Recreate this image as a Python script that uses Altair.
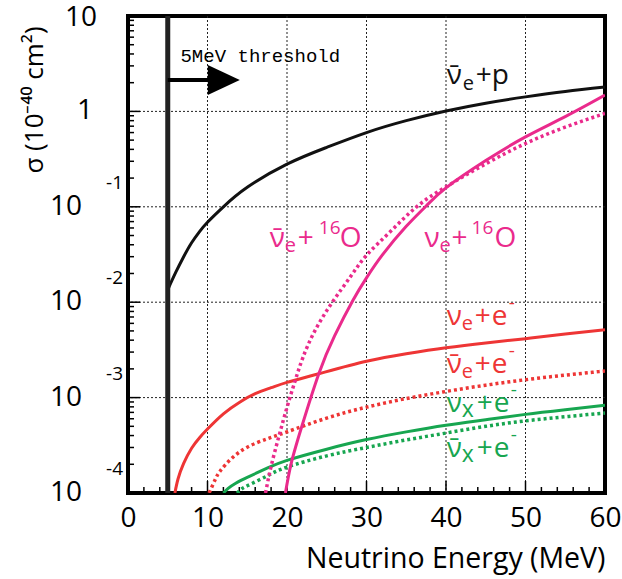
import altair as alt
import pandas as pd

FONT = "Open Sans"
PINK = "#ea2a8c"
RED = "#ee3535"
GREEN = "#17a650"
BLACK = "#111111"

# Cross sections in units of 1e-40 cm^2 versus neutrino energy (MeV)
energy_ibd = [5, 6, 7, 8, 9, 10, 12, 15, 20, 25, 30, 35, 40, 45, 50, 55, 60]
sigma_ibd = [0.0135, 0.0205, 0.030, 0.042, 0.055, 0.069, 0.10, 0.16, 0.28, 0.42,
             0.60, 0.80, 1.01, 1.22, 1.42, 1.62, 1.80]

energy_nue_o = [19.8, 20.5, 21.8, 24, 26, 28.3, 30, 32, 35, 37.5, 40, 45, 50, 55, 60]
sigma_nue_o = [1e-4, 2.0e-4, 4.8e-4, 1.78e-3, 4.47e-3, 0.0105, 0.018, 0.0313, 0.0624,
               0.102, 0.158, 0.305, 0.54, 0.88, 1.48]

energy_nuebar_o = [17.3, 18, 19, 20, 21, 22, 23.5, 25.7, 28, 30, 33, 36.3, 40, 45,
                   50, 55, 60]
sigma_nuebar_o = [1e-4, 1.9e-4, 3.98e-4, 7.9e-4, 1.48e-3, 2.63e-3, 5.0e-3, 0.010,
                  0.0186, 0.031, 0.055, 0.10, 0.162, 0.282, 0.461, 0.684, 0.953]

energy_nue_e = [5.9, 6.3, 7, 8, 9, 10, 12, 14, 16, 18, 20, 24, 30, 35, 40, 45, 50,
                55, 60]
sigma_nue_e = [1e-4, 1.41e-4, 2.04e-4, 2.95e-4, 3.8e-4, 4.68e-4, 6.76e-4, 8.9e-4,
               1.1e-3, 1.27e-3, 1.445e-3, 1.78e-3, 2.4e-3, 2.88e-3, 3.33e-3,
               3.74e-3, 4.15e-3, 4.65e-3, 5.15e-3]

energy_nuebar_e = [10.2, 11, 11.6, 13, 15, 17.5, 20, 25, 30, 35, 40, 45, 50, 55, 60]
sigma_nuebar_e = [1e-4, 1.4e-4, 1.7e-4, 2.29e-4, 3.02e-4, 3.7e-4, 4.37e-4, 6.1e-4,
                  7.94e-4, 9.77e-4, 1.16e-3, 1.35e-3, 1.54e-3, 1.72e-3, 1.9e-3]

energy_nux_e = [12, 12.6, 13.5, 15, 17.5, 20, 25, 30, 35, 40, 45, 50, 55, 60]
sigma_nux_e = [1e-4, 1.12e-4, 1.26e-4, 1.46e-4, 1.82e-4, 2.2e-4, 2.88e-4, 3.63e-4,
               4.37e-4, 5.13e-4, 5.86e-4, 6.67e-4, 7.46e-4, 8.3e-4]

energy_nuxbar_e = [13.7, 14.3, 15, 17.5, 20, 25, 30, 35, 40, 45, 50, 55, 60]
sigma_nuxbar_e = [1e-4, 1.1e-4, 1.19e-4, 1.51e-4, 1.87e-4, 2.45e-4, 3.0e-4, 3.6e-4,
                  4.25e-4, 5.0e-4, 5.7e-4, 6.3e-4, 6.9e-4]

threshold_energy = 5

x_ticks_major = [0, 10, 20, 30, 40, 50, 60]
decades = [10, 1, 0.1, 0.01, 0.001, 0.0001]
decade_exponents = ["", "", "-1", "-2", "-3", "-4"]

W, H = 477, 477

xscale = alt.Scale(domain=[0, 60], nice=False, zero=False)
yscale = alt.Scale(type="log", domain=[1e-4, 10], nice=False)
xaxis = alt.Axis(
    values=x_ticks_major, ticks=False, domain=False, grid=False,
    labelFont=FONT, labelFontSize=28, labelColor="black", labelPadding=11,
    labelFlush=False, labelOverlap=False, labelBound=False,
    title="Neutrino Energy (MeV)", titleFont=FONT, titleFontSize=28.5,
    titleFontWeight="normal", titleColor="black", titleAnchor="end",
    titlePadding=12,
)


def X(field="E"):
    return alt.X(f"{field}:Q", scale=xscale, axis=xaxis)


def Y(field="sigma"):
    return alt.Y(f"{field}:Q", scale=yscale, axis=None)


def curve(energy, sigma, color, dotted=False):
    df = pd.DataFrame({"E": energy, "sigma": sigma})
    props = dict(color=color, strokeWidth=3, clip=True, interpolate="natural")
    if dotted:
        props.update(strokeDash=[3, 3], strokeWidth=3.5)
    return alt.Chart(df).mark_line(**props).encode(x=X(), y=Y())


layers = []

# grid
minor_x = [v for v in range(2, 60, 2) if v % 10]
minor_y = [m * d for d in [1e-4, 1e-3, 1e-2, 1e-1, 1] for m in range(2, 10)]
layers.append(
    alt.Chart(pd.DataFrame({"E": x_ticks_major[1:-1]}))
    .mark_rule(color="#222", strokeWidth=1, strokeDash=[2, 2])
    .encode(x=X())
)
layers.append(
    alt.Chart(pd.DataFrame({"sigma": decades[1:-1]}))
    .mark_rule(color="#222", strokeWidth=1, strokeDash=[2, 2])
    .encode(y=Y())
)
# inward ticks
layers.append(
    alt.Chart(pd.DataFrame({"E": x_ticks_major}))
    .mark_rule(color="black", strokeWidth=1.5)
    .encode(x=X(), y=alt.value(H), y2=alt.value(H - 12))
)
layers.append(
    alt.Chart(pd.DataFrame({"E": minor_x}))
    .mark_rule(color="black", strokeWidth=1.5)
    .encode(x=X(), y=alt.value(H), y2=alt.value(H - 6))
)
layers.append(
    alt.Chart(pd.DataFrame({"sigma": decades}))
    .mark_rule(color="black", strokeWidth=1.5)
    .encode(y=Y(), x=alt.value(0), x2=alt.value(12))
)
layers.append(
    alt.Chart(pd.DataFrame({"sigma": minor_y}))
    .mark_rule(color="black", strokeWidth=1.5)
    .encode(y=Y(), x=alt.value(0), x2=alt.value(6))
)

# curves
layers += [
    curve(energy_nuxbar_e, sigma_nuxbar_e, GREEN, dotted=True),
    curve(energy_nux_e, sigma_nux_e, GREEN),
    curve(energy_nuebar_e, sigma_nuebar_e, RED, dotted=True),
    curve(energy_nue_e, sigma_nue_e, RED),
    curve(energy_nuebar_o, sigma_nuebar_o, PINK, dotted=True),
    curve(energy_nue_o, sigma_nue_o, PINK),
    curve(energy_ibd, sigma_ibd, BLACK),
]

# threshold line with arrow
one = pd.DataFrame({"E": [threshold_energy]})
layers.append(alt.Chart(one).mark_rule(color="#222", strokeWidth=5).encode(x=X()))
arrow_sigma = 2.13
layers.append(
    alt.Chart(pd.DataFrame({"E": [threshold_energy], "E2": [11.0], "sigma": [arrow_sigma]}))
    .mark_rule(color="black", strokeWidth=4)
    .encode(x=X(), x2="E2:Q", y=Y())
)
layers.append(
    alt.Chart(pd.DataFrame({"E": [12.05], "sigma": [arrow_sigma]}))
    .mark_point(shape="M-1,-0.94L1,0L-1,0.94Z", filled=True, opacity=1,
                color="black", size=1024)
    .encode(x=X(), y=Y())
)
layers.append(
    alt.Chart(pd.DataFrame({"E": [6.6], "sigma": [3.29]}))
    .mark_text(text="5MeV threshold", font="Liberation Mono", fontSize=19,
               align="left", baseline="alphabetic", color="black")
    .encode(x=X(), y=Y())
)


def label(E, sigma, pieces, color):
    out = []
    df = pd.DataFrame({"E": [E], "sigma": [sigma]})
    for text, dx, dy, size in pieces:
        out.append(
            alt.Chart(df)
            .mark_text(text=text, dx=dx, dy=dy, fontSize=size, font=FONT,
                       align="left", baseline="alphabetic", color=color)
            .encode(x=X(), y=Y())
        )
    return out


NUBAR = "\u03bd\u0304"
NU = "\u03bd"
layers += label(40.08, 1.93, [(NUBAR, 0, 0, 28), ("e", 16, 6, 20), ("+p", 29, 0, 28)], BLACK)
layers += label(17.84, 0.0377, [(NUBAR, 0, 0, 28), ("e", 15, 5, 20), ("+", 28, 0, 28),
                                ("16", 49, -13, 19), ("O", 70, 0, 28)], PINK)
layers += label(37.3, 0.0377, [(NU, 0, 0, 28), ("e", 15, 5, 20), ("+", 27, 0, 28),
                               ("16", 47, -13, 19), ("O", 70, 0, 28)], PINK)
layers += label(40.1, 5.73e-3, [(NU, 0, 0, 28), ("e", 15, 5, 20), ("+", 28, 0, 28),
                                ("e", 45, 0, 28), ("-", 62, -16, 19)], RED)
layers += label(40.1, 1.8e-3, [(NUBAR, 0, 0, 28), ("e", 15, 5, 20), ("+", 28, 0, 28),
                               ("e", 45, 0, 28), ("-", 62, -16, 19)], RED)
layers += label(40.1, 7.0e-4, [(NU, 0, 0, 28), ("x", 15, 5, 23), ("+", 30, 0, 28),
                               ("e", 47, 0, 28), ("-", 64, -16, 19)], GREEN)
layers += label(40.1, 2.38e-4, [(NUBAR, 0, 0, 28), ("x", 15, 5, 23), ("+", 30, 0, 28),
                                ("e", 47, 0, 28), ("-", 64, -16, 19)], GREEN)

# y tick labels: mantissa "10" with exponent above
dec_df = pd.DataFrame({"sigma": decades, "exp": decade_exponents})
layers.append(
    alt.Chart(dec_df[dec_df["exp"] != ""].assign(t="10"))
    .mark_text(font=FONT, fontSize=28, align="right", baseline="middle", color="black")
    .encode(y=Y(), x=alt.value(-46), text="t:N")
)
layers.append(
    alt.Chart(dec_df[dec_df["exp"] != ""])
    .mark_text(font=FONT, fontSize=19, align="right", baseline="middle", color="black")
    .encode(y=Y(), x=alt.value(-5), text="exp:N", yOffset=alt.value(-24))
)
layers.append(
    alt.Chart(pd.DataFrame({"sigma": [10], "t": ["10"]}))
    .mark_text(font=FONT, fontSize=28, align="right", baseline="middle", color="black",
               dy=2)
    .encode(y=Y(), x=alt.value(-31), text="t:N")
)
layers.append(
    alt.Chart(pd.DataFrame({"sigma": [1], "t": ["1"]}))
    .mark_text(font=FONT, fontSize=28, align="right", baseline="middle", color="black")
    .encode(y=Y(), x=alt.value(-35), text="t:N")
)

# y title
layers.append(
    alt.Chart(pd.DataFrame({"t": ["\u03c3 (10\u207b\u2074\u2070 cm\u00b2)"]}))
    .mark_text(font=FONT, fontSize=26, angle=270, align="center", baseline="middle",
               color="black")
    .encode(x=alt.value(-93), y=alt.value(84), text="t:N")
)

chart = (
    alt.layer(*layers)
    .properties(width=W, height=H, autosize="none",
                padding={"left": 128, "top": 16, "right": 17, "bottom": 86})
    .configure_view(stroke="black", strokeWidth=4)
)

chart.save("out.html", embed_options={"renderer": "svg", "actions": False})
